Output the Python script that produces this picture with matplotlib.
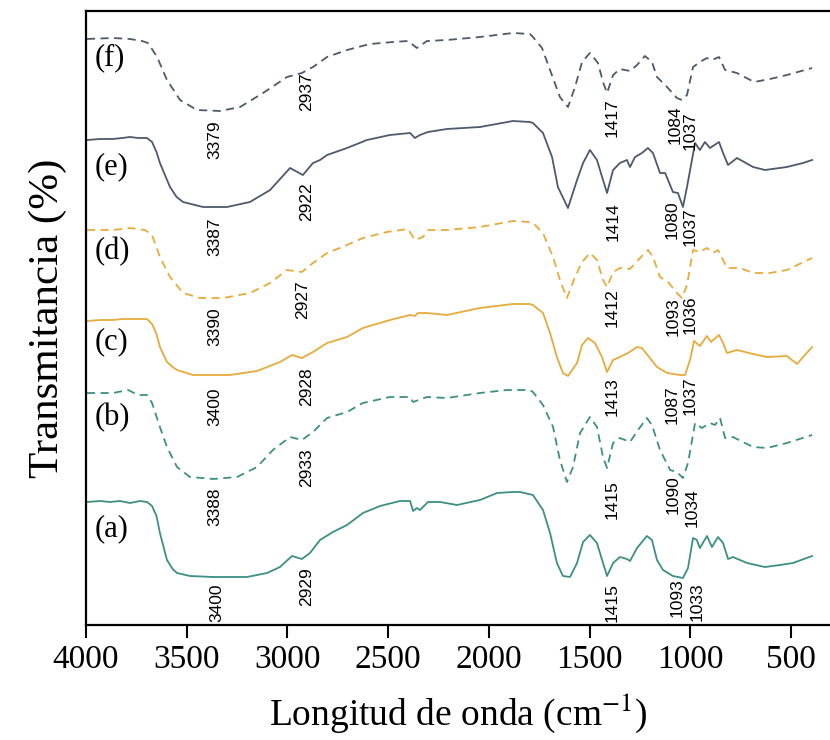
import matplotlib
matplotlib.use("Agg")
import matplotlib.pyplot as plt

plt.rcParams["font.family"] = ["Liberation Serif", "DejaVu Serif"]
plt.rcParams["mathtext.fontset"] = "stix"

TEAL = "#3d8f86"
GOLD = "#e6ab3a"
SLATE = "#4c5a6b"

# wavenumber (cm-1) and transmittance (arbitrary, stacked)
wn_a = [3995, 3930, 3881, 3831, 3782, 3732, 3697, 3672, 3650, 3633, 3598, 3570, 3548, 3484, 3369, 3201,
        3101, 3037, 2977, 2928, 2888, 2838, 2774, 2704, 2625, 2540, 2441, 2391, 2376, 2357, 2342, 2302,
        2242, 2158, 2044, 1959, 1880, 1845, 1781, 1731, 1696, 1662, 1632, 1597, 1562, 1532, 1498, 1463,
        1433, 1413, 1383, 1349, 1314, 1299, 1264, 1215, 1190, 1165, 1135, 1086, 1036, 1011, 986, 967,
        952, 917, 892, 862, 837, 812, 788, 718, 629, 554, 490, 395]
t_a = [124, 125, 124, 125, 123, 125, 124, 120, 110, 93, 66, 57, 53, 50, 49, 49,
       53, 59, 70, 67, 73, 86, 94, 101, 113, 120, 125, 125, 115, 118, 116, 124,
       124, 121, 126, 133, 134, 134, 131, 116, 93, 63, 50, 49, 63, 84, 91, 83,
       63, 50, 63, 69, 67, 65, 78, 90, 86, 66, 56, 50, 48, 58, 88, 86,
       78, 90, 79, 89, 83, 67, 69, 63, 59, 61, 63, 70]

wn_b = [3995, 3866, 3791, 3742, 3697, 3672, 3633, 3598, 3548, 3484, 3369, 3250, 3151, 3072, 2987, 2928,
        2873, 2803, 2704, 2625, 2491, 2391, 2376, 2307, 2208, 2044, 1910, 1796, 1781, 1731, 1681, 1647,
        1612, 1582, 1547, 1498, 1463, 1433, 1413, 1383, 1349, 1299, 1259, 1215, 1190, 1150, 1100, 1066,
        1036, 1011, 976, 942, 902, 877, 852, 827, 788, 688, 619, 520, 395]
t_b = [233, 233, 236, 231, 231, 223, 199, 179, 159, 149, 147, 149, 159, 176, 189, 186,
       194, 208, 214, 223, 229, 229, 224, 229, 228, 233, 236, 236, 234, 221, 199, 166,
       144, 159, 193, 209, 199, 169, 158, 183, 188, 184, 196, 208, 201, 176, 156, 154,
       148, 163, 203, 198, 203, 201, 208, 188, 189, 179, 178, 183, 191]

wn_c = [3995, 3930, 3866, 3820, 3782, 3740, 3697, 3672, 3650, 3633, 3598, 3570, 3548, 3469, 3285, 3151,
        3037, 2977, 2928, 2873, 2803, 2704, 2625, 2491, 2391, 2367, 2352, 2307, 2208, 2044, 1880, 1796,
        1781, 1731, 1696, 1662, 1632, 1607, 1562, 1537, 1508, 1473, 1438, 1413, 1383, 1349, 1309, 1264,
        1240, 1200, 1165, 1115, 1051, 1026, 1001, 981, 952, 917, 897, 857, 837, 817, 768, 688, 619, 520,
        470, 395]
t_c = [305, 306, 306, 307, 307, 307, 307, 302, 292, 279, 264, 259, 256, 251, 251, 255,
       264, 271, 268, 274, 283, 289, 298, 306, 311, 310, 313, 313, 311, 318, 322, 322,
       321, 313, 293, 269, 253, 250, 263, 281, 288, 283, 269, 254, 266, 269, 273, 279,
       278, 268, 259, 253, 251, 251, 266, 285, 280, 290, 284, 291, 283, 273, 276, 272, 269, 270,
       262, 279]

wn_d = [3995, 3866, 3782, 3707, 3672, 3633, 3583, 3518, 3434, 3320, 3186, 3086, 3002, 2928, 2873, 2803,
        2704, 2625, 2506, 2401, 2367, 2327, 2302, 2208, 2044, 1880, 1796, 1781, 1731, 1681, 1647, 1612,
        1572, 1537, 1498, 1463, 1433, 1413, 1383, 1349, 1299, 1249, 1210, 1185, 1150, 1110, 1066, 1041,
        1016, 986, 952, 917, 887, 862, 817, 753, 688, 604, 520, 395]
t_d = [396, 396, 398, 396, 391, 369, 349, 333, 328, 328, 333, 343, 356, 354, 363, 373,
       381, 388, 394, 397, 386, 389, 396, 396, 399, 405, 404, 403, 393, 369, 346, 328,
       349, 364, 373, 366, 346, 339, 354, 358, 357, 368, 376, 369, 349, 344, 333, 328,
       341, 376, 374, 378, 373, 376, 358, 358, 353, 353, 356, 368]

wn_e = [3995, 3930, 3866, 3820, 3782, 3740, 3697, 3672, 3650, 3633, 3583, 3550, 3518, 3419, 3300, 3186,
        3086, 2987, 2923, 2873, 2838, 2803, 2704, 2605, 2491, 2391, 2367, 2342, 2302, 2208, 2044, 1880,
        1796, 1781, 1731, 1686, 1657, 1607, 1562, 1532, 1498, 1463, 1433, 1413, 1383, 1349, 1314, 1299,
        1274, 1240, 1210, 1185, 1150, 1125, 1110, 1086, 1061, 1036, 1016, 976, 952, 927, 902, 857,
        837, 812, 768, 688, 629, 520, 440, 395]
t_e = [486, 487, 487, 488, 489, 488, 488, 484, 474, 463, 439, 429, 424, 419, 419, 424,
       436, 458, 451, 463, 466, 471, 478, 486, 491, 493, 488, 491, 494, 497, 499, 505,
       504, 503, 493, 469, 439, 418, 446, 463, 476, 466, 446, 433, 456, 463, 466, 459,
       469, 473, 478, 473, 453, 453, 446, 434, 433, 419, 439, 483, 476, 484, 478, 484,
       473, 461, 468, 459, 456, 459, 463, 466]

wn_f = [3995, 3866, 3782, 3722, 3692, 3647, 3598, 3533, 3449, 3335, 3235, 3121, 3002, 2928, 2873, 2803,
        2704, 2590, 2476, 2401, 2357, 2307, 2208, 2044, 1880, 1796, 1781, 1736, 1696, 1647, 1607, 1572,
        1537, 1498, 1458, 1433, 1413, 1383, 1349, 1299, 1264, 1225, 1190, 1165, 1115, 1066, 1041, 1016,
        986, 952, 917, 892, 857, 827, 768, 683, 604, 520, 395]
t_f = [587, 588, 587, 585, 583, 569, 546, 526, 516, 515, 519, 533, 549, 553, 559, 569,
       576, 582, 584, 585, 578, 585, 586, 589, 593, 592, 589, 578, 556, 529, 519, 539,
       564, 573, 563, 544, 533, 551, 557, 555, 561, 570, 564, 549, 539, 528, 526, 531,
       559, 564, 568, 566, 569, 556, 553, 544, 547, 551, 558]

sample_names = ["(a)", "(b)", "(c)", "(d)", "(e)", "(f)"]
sample_label_y = [97, 208, 284, 374, 459, 568]

# peak labels: text, wavenumber position, top of the text
peak_text = ["3400", "2929", "1415", "1093", "1033",
             "3388", "2933", "1415", "1090", "1034",
             "3400", "2928", "1413", "1087", "1037",
             "3390", "2927", "1412", "1093", "1036",
             "3387", "2922", "1414", "1080", "1037",
             "3379", "2937", "1417", "1084", "1037"]
peak_x = [3350, 2903, 1388, 1066, 967,
          3360, 2903, 1388, 1086, 991,
          3360, 2903, 1388, 1091, 1001,
          3360, 2923, 1388, 1086, 1001,
          3360, 2903, 1383, 1091, 1001,
          3360, 2903, 1388, 1076, 1001]
peak_y = [43, 59, 43, 48, 44,
          138, 178, 146, 151, 138,
          238, 259, 249, 241, 250,
          319, 346, 338, 329, 331,
          408, 444, 424, 426, 419,
          506, 554, 528, 521, 515]

fig = plt.figure(figsize=(8.3, 7.4), dpi=100)
ax = fig.add_axes([86 / 830, 115 / 740, 744 / 830, 614 / 740])

dash = (0, (4.5, 3))
ax.plot(wn_a, t_a, color=TEAL, lw=1.3)
ax.plot(wn_b, t_b, color=TEAL, lw=1.3, linestyle=dash)
ax.plot(wn_c, t_c, color=GOLD, lw=1.3)
ax.plot(wn_d, t_d, color=GOLD, lw=1.3, linestyle=dash)
ax.plot(wn_e, t_e, color=SLATE, lw=1.3)
ax.plot(wn_f, t_f, color=SLATE, lw=1.3, linestyle=dash)

for name, yy in zip(sample_names, sample_label_y):
    ax.text(3955, yy, name, fontsize=22, ha="left", va="center")

for txt, xx, yy in zip(peak_text, peak_x, peak_y):
    ax.text(xx, yy, txt, rotation=90, fontsize=12.5, ha="center", va="top",
            family=["Liberation Sans", "DejaVu Sans"])

ax.set_xlim(4000, 306)
ax.set_ylim(1, 615)
ax.set_xticks([4000, 3500, 3000, 2500, 2000, 1500, 1000, 500])
ax.set_yticks([])
ax.tick_params(axis="x", direction="out", length=9, width=1.5, labelsize=24, pad=5)
for side in ["left", "bottom", "top"]:
    ax.spines[side].set_linewidth(1.6)
ax.spines["right"].set_visible(False)

ax.set_xlabel("Longitud de onda (cm$^{-1}$)", fontsize=27, labelpad=12)
ax.set_ylabel("Transmitancia (%)", fontsize=31, labelpad=14)

plt.savefig("out.png", dpi=100)
